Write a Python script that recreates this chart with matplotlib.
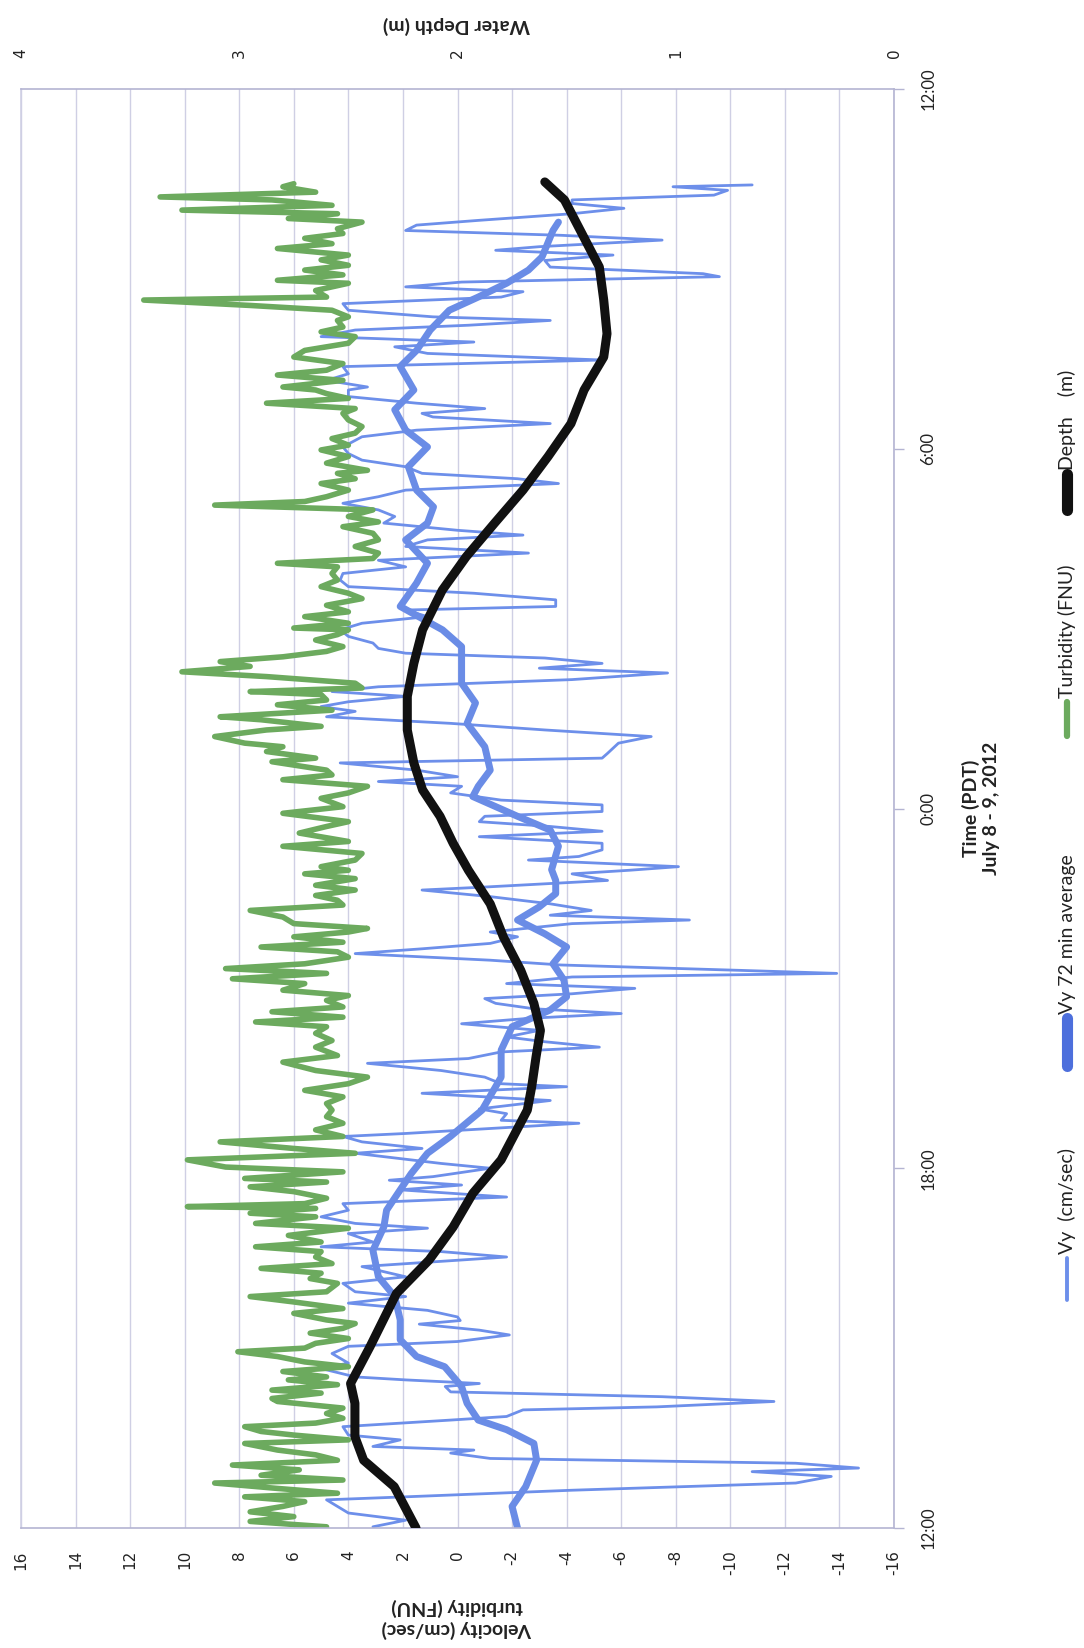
import matplotlib.pyplot as plt
from matplotlib.lines import Line2D

W, H = 1084, 1648

# ---- data: hours after 12:00 PDT, July 8 2012 ----
vy_hours = [0.02, 0.13, 0.25, 0.47, 0.52, 0.63, 0.75, 0.86, 0.94, 1.00, 1.08, 1.16, 1.25, 1.30,
            1.36, 1.47, 1.55, 1.69, 1.80, 1.86, 1.97, 2.02, 2.11, 2.19, 2.27, 2.36, 2.41, 2.47,
            2.52, 2.66, 2.75, 2.91, 3.03, 3.11, 3.22, 3.30, 3.40, 3.46, 3.52, 3.63, 3.75, 3.86,
            3.94, 4.08, 4.19, 4.36, 4.52, 4.61, 4.69, 4.77, 4.91, 5.00, 5.08, 5.19, 5.30, 5.41,
            5.52, 5.64, 5.72, 5.80, 5.86, 6.00, 6.08, 6.25, 6.33, 6.44, 6.53, 6.58, 6.75, 6.80,
            6.91, 6.99, 7.13, 7.25, 7.36, 7.41, 7.52, 7.63, 7.75, 7.83, 7.94, 8.02, 8.11, 8.19,
            8.30, 8.41, 8.50, 8.58, 8.66, 8.75, 8.83, 8.91, 9.00, 9.08, 9.19, 9.25, 9.30, 9.39,
            9.47, 9.58, 9.66, 9.75, 9.86, 9.94, 10.08, 10.14, 10.22, 10.30, 10.41, 10.53, 10.64,
            10.69, 10.80, 10.91, 10.97, 11.03, 11.14, 11.20, 11.31, 11.42, 11.53, 11.62, 11.70,
            11.78, 11.87, 11.95, 12.06, 12.14, 12.26, 12.37, 12.45, 12.53, 12.64, 12.76, 12.84,
            12.92, 13.09, 13.20, 13.31, 13.42, 13.53, 13.62, 13.70, 13.78, 13.87, 13.95, 14.03,
            14.15, 14.26, 14.34, 14.42, 14.51, 14.59, 14.67, 14.76, 14.87, 14.98, 15.09, 15.20,
            15.31, 15.37, 15.48, 15.59, 15.70, 15.81, 15.92, 16.03, 16.14, 16.26, 16.37, 16.48,
            16.56, 16.64, 16.76, 16.87, 16.98, 17.09, 17.20, 17.31, 17.42, 17.50, 17.59, 17.70,
            17.81, 17.92, 18.03, 18.20, 18.31, 18.42, 18.53, 18.59, 18.67, 18.76, 18.87, 18.98,
            19.03, 19.14, 19.25, 19.37, 19.48, 19.59, 19.70, 19.78, 19.87, 19.98, 20.06, 20.14,
            20.20, 20.31, 20.42, 20.53, 20.62, 20.70, 20.78, 20.87, 20.92, 21.03, 21.14, 21.23,
            21.31, 21.37, 21.48, 21.56, 21.64, 21.73, 21.81, 21.92, 22.01, 22.09, 22.15, 22.23,
            22.31, 22.37, 22.40]
vy_vals = [3.1, 1.9, 4.0, 4.8, 1.9, -4.2, -12.4, -13.7, -10.8, -14.7, -12.4, -1.2, 0.25, -0.6,
           3.1, 2.1, 4.0, 4.2, 0.25, -1.8, -2.4, -7.3, -11.6, -7.5, 0.25, 0.45, -0.8, 1.9,
           3.75, 5.0, 4.0, 4.6, 4.0, 0.0, -1.9, -0.8, 1.4, -0.1, 0.0, 1.1, 4.0, 1.9,
           3.75, 4.2, 1.9, 3.5, -1.8, 0.6, 5.0, 3.1, 4.0, 1.1, 3.75, 5.0, 4.0, 4.2,
           -1.8, 2.1, -0.15, 2.5, 0.9, -1.2, 0.6, 3.75, 1.3, 3.5, 4.2, 1.9, -4.45, -1.6,
           -1.8, -0.8, -3.4, 1.3, -4.0, -1.6, -1.0, 0.6, 3.3, -0.4, -1.6, -5.2, -3.2, -1.8,
           -3.0, -0.15, -2.6, -6.0, -2.8, -1.4, -1.0, -4.2, -6.5, -1.8, -4.2, -13.9, -10.4, -3.8,
           -1.2, 3.75, 1.3, -1.2, -2.2, -1.2, -4.2, -8.5, -3.4, -4.9, -3.4, -1.2, 1.3,
           -1.0, -5.5, -4.2, -6.3, -8.1, -2.6, -4.45, -5.3, -5.3, -0.8, -5.3, -3.4,
           -0.8, -1.0, -5.3, -5.3, -1.6, 0.25, -0.15, 2.9, 0.0, 1.5, 4.3, -5.3,
           -5.5, -5.9, -7.1, -3.2, 0.25, 4.8, 3.75, 5.0, 4.0, 1.9, 4.6, 2.9,
           -4.2, -7.7, -3.0, -5.3, -3.2, 1.9, 2.9, 3.1, 4.0, 4.3, 3.5, 1.1,
           1.9, -3.6, -3.6, -0.6, 4.0, 4.3, 4.2, 1.9, 2.9, -2.6, 1.9, 1.1,
           -2.4, 0.0, 2.7, 2.3, 2.9, 4.2, 2.9, 1.9, -3.7, -2.2, 1.3, 1.9,
           3.5, 4.0, 4.2, 3.5, 1.5, -3.4, 0.9, 1.3, -1.0, 1.5, 4.0, 4.0,
           3.3, 4.8, 4.0, 4.2, -5.3, 1.1, 2.3, -0.6, 5.0, 3.75, -0.4, -3.4,
           0.9, 4.0, 4.2, -1.6, -2.4, 1.9, -0.15, -9.6, -9.0, -3.4, -3.2, -5.7,
           -1.4, -3.0, -7.5, -3.8, 1.9, 1.5, -0.8, -4.2, -6.1, -4.2, -4.2, -9.4,
           -9.9, -7.9, -10.8]

avg_hours = [0.00, 0.36, 0.69, 1.13, 1.41, 1.64, 1.80, 2.08, 2.36, 2.69, 2.86, 3.14, 3.47, 3.86,
             4.19, 4.63, 5.02, 5.30, 5.64, 5.91, 6.25, 6.53, 6.80, 6.97, 7.52, 7.97, 8.36, 8.64,
             8.86, 9.14, 9.41, 9.69, 9.91, 10.14, 10.36, 10.58, 10.80, 10.98, 11.37, 11.64,
             11.87, 12.20, 12.37, 12.64, 13.03, 13.42, 13.76, 14.09, 14.42, 14.70, 14.98, 15.37,
             15.76, 16.09, 16.48, 16.76, 17.03, 17.31, 17.70, 18.03, 18.31, 18.65, 18.98, 19.37,
             19.64, 19.98, 20.31, 20.53, 20.76, 20.98, 21.20, 21.42, 21.64, 21.78]
avg_vals = [-2.2, -2.0, -2.5, -2.9, -2.8, -1.8, -0.76, -0.35, -0.15, 0.47, 1.5, 2.1, 2.1, 2.3,
            2.9, 3.1, 2.7, 2.6, 2.1, 1.7, 1.1, 0.26, -0.45, -0.9, -1.6, -1.6, -2.0, -3.4,
            -4.0, -3.9, -3.5, -4.0, -3.2, -2.2, -3.0, -3.6, -3.6, -3.45, -3.7, -3.4,
            -2.2, -0.56, -0.76, -1.2, -1.0, -0.35, -0.66, -0.15, -0.15, -0.15, 0.55, 2.1,
            1.5, 1.1, 1.9, 1.1, 0.88, 1.5, 1.8, 1.1, 1.9, 2.3, 1.6, 2.1,
            1.5, 1.0, 0.3, -0.76, -1.8, -2.6, -3.1, -3.3, -3.5, -3.7]

turb_hours = [0.02, 0.11, 0.19, 0.27, 0.36, 0.44, 0.52, 0.58, 0.66, 0.75, 0.80, 0.88, 0.97, 1.05,
              1.13, 1.22, 1.30, 1.41, 1.47, 1.55, 1.61, 1.69, 1.75, 1.83, 1.91, 2.00, 2.11, 2.16,
              2.25, 2.30, 2.39, 2.47, 2.52, 2.61, 2.69, 2.77, 2.86, 2.94, 3.00, 3.08, 3.16, 3.25,
              3.33, 3.41, 3.47, 3.58, 3.66, 3.77, 3.86, 3.94, 4.08, 4.16, 4.25, 4.33, 4.41, 4.52,
              4.61, 4.69, 4.77, 4.88, 5.00, 5.08, 5.19, 5.25, 5.33, 5.36, 5.41, 5.50, 5.61, 5.69,
              5.77, 5.83, 5.94, 6.02, 6.14, 6.25, 6.33, 6.44, 6.53, 6.64, 6.75, 6.86, 6.97, 7.08,
              7.19, 7.30, 7.41, 7.52, 7.63, 7.77, 7.88, 8.02, 8.13, 8.25, 8.36, 8.44, 8.52, 8.61,
              8.69, 8.80, 8.88, 8.97, 9.08, 9.16, 9.25, 9.33, 9.41, 9.52, 9.61, 9.69, 9.77, 9.86,
              9.94, 10.00, 10.08, 10.19, 10.30, 10.39, 10.47, 10.55, 10.64, 10.72, 10.83, 10.91,
              10.97, 11.03, 11.14, 11.25, 11.37, 11.45, 11.59, 11.70, 11.78, 11.92, 12.03, 12.17,
              12.26, 12.37, 12.48, 12.56, 12.64, 12.78, 12.84, 12.95, 13.03, 13.09, 13.20, 13.31,
              13.37, 13.48, 13.53, 13.64, 13.73, 13.81, 13.90, 13.95, 14.01, 14.09, 14.20, 14.28,
              14.37, 14.45, 14.53, 14.62, 14.70, 14.81, 14.90, 14.98, 15.01, 15.09, 15.20, 15.28,
              15.39, 15.50, 15.59, 15.70, 15.81, 15.92, 16.03, 16.09, 16.17, 16.26, 16.37, 16.48,
              16.59, 16.70, 16.78, 16.87, 16.98, 17.06, 17.12, 17.20, 17.31, 17.42, 17.50, 17.59,
              17.64, 17.76, 17.87, 17.98, 18.06, 18.17, 18.26, 18.37, 18.48, 18.59, 18.67, 18.76,
              18.84, 18.92, 18.98, 19.03, 19.14, 19.23, 19.31, 19.42, 19.53, 19.64, 19.76, 19.87,
              19.95, 20.03, 20.14, 20.20, 20.31, 20.39, 20.48, 20.53, 20.64, 20.76, 20.81, 20.90,
              20.98, 21.06, 21.15, 21.23, 21.34, 21.42, 21.51, 21.59, 21.67, 21.78, 21.84, 21.92,
              21.98, 22.06, 22.15, 22.20, 22.28, 22.37, 22.42]
turb_vals = [4.8, 7.6, 6.0, 7.6, 6.4, 5.6, 7.8, 4.4, 6.6, 8.9, 4.2, 7.2, 5.8, 8.25,
             4.4, 5.2, 6.6, 7.8, 4.0, 6.0, 7.2, 7.8, 5.2, 4.2, 4.8, 4.2, 6.6, 6.8,
             5.0, 6.8, 4.4, 6.2, 4.8, 6.4, 4.0, 5.6, 6.6, 8.05, 5.6, 5.2, 4.0, 5.4,
             4.2, 3.75, 4.8, 6.0, 4.2, 6.0, 7.6, 4.8, 4.4, 5.4, 5.0, 7.2, 4.6, 5.2,
             5.0, 7.4, 5.0, 6.2, 4.0, 7.4, 5.2, 7.6, 5.2, 9.9, 5.6, 4.8, 6.0, 7.6,
             4.8, 7.8, 4.2, 8.5, 9.9, 3.75, 6.0, 8.7, 4.2, 5.2, 4.2, 4.8, 4.6, 4.8,
             4.2, 5.6, 4.0, 3.3, 5.2, 6.4, 4.4, 5.2, 4.6, 5.2, 4.8, 7.4, 4.2, 6.8,
             4.2, 4.8, 4.0, 6.4, 5.6, 8.25, 4.8, 8.5, 5.6, 4.0, 4.4, 7.2, 4.2, 6.0,
             4.0, 3.3, 6.0, 6.4, 7.6, 4.2, 4.4, 5.2, 3.75, 5.2, 3.75, 5.6,
             4.0, 5.0, 3.75, 3.5, 6.4, 4.0, 5.8, 4.8, 4.0, 6.4, 4.2, 5.0,
             4.0, 3.3, 6.4, 4.6, 4.8, 6.8, 5.2, 7.0, 6.4, 7.8, 8.9, 7.0,
             5.0, 7.2, 8.7, 4.6, 6.6, 4.8, 5.0, 7.6, 3.5, 3.75, 7.0, 10.1,
             7.6, 8.7, 6.4, 4.8, 4.2, 5.2, 4.4, 4.0, 6.0, 4.0, 5.6, 4.0,
             4.8, 3.5, 4.0, 5.0, 4.4, 4.6, 4.4, 6.6, 3.1, 2.9, 3.75, 2.9,
             3.1, 4.2, 2.9, 4.0, 3.1, 8.9, 5.6, 4.8, 4.0, 5.0, 3.75, 4.4,
             3.3, 4.8, 4.0, 5.0, 4.0, 4.6, 3.75, 3.5, 4.0, 4.2, 3.75, 7.0,
             4.0, 4.8, 5.2, 6.4, 4.2, 6.6, 4.8, 4.2, 6.0, 5.6, 4.0, 3.75,
             5.0, 4.2, 4.4, 4.0, 4.6, 7.6, 11.5, 4.8, 5.2, 4.0, 6.6, 4.2,
             5.6, 4.0, 5.0, 4.0, 6.6, 4.6, 5.6, 4.2, 4.4, 3.5, 6.2, 4.4,
             10.1, 4.6, 6.8, 10.9, 5.2, 6.4, 6.0]

depth_hours = [0.00, 0.69, 1.13, 1.52, 2.08, 2.41, 3.03, 3.47, 3.91, 4.47, 5.02, 5.58, 6.14, 6.97,
               7.36, 7.86, 8.30, 8.75, 9.30, 9.86, 10.41, 10.97, 11.42, 11.87, 12.31, 12.76, 13.31,
               13.87, 14.42, 14.98, 15.64, 16.20, 16.76, 17.31, 17.87, 18.42, 18.98, 19.53, 19.92,
               20.48, 21.03, 21.59, 22.15, 22.45]
depth_vals = [2.19, 2.29, 2.43, 2.47, 2.47, 2.49, 2.40, 2.34, 2.28, 2.13, 2.02, 1.93, 1.80, 1.68,
              1.66, 1.64, 1.62, 1.65, 1.71, 1.79, 1.85, 1.95, 2.02, 2.08, 2.16, 2.20, 2.23,
              2.23, 2.20, 2.16, 2.07, 1.96, 1.83, 1.70, 1.585, 1.48, 1.42, 1.33, 1.315,
              1.33, 1.35, 1.43, 1.51, 1.60]

vel_ticks = list(range(-16, 17, 2))
depth_ticks = [0, 1, 2, 3, 4]
time_ticks = [0, 6, 12, 18, 24]
time_labels = ['12:00', '18:00', '0:00', '6:00', '12:00']

c_vy = '#6d8fea'
c_avg = '#6a8ce6'
c_turb = '#6caa5e'
c_depth = '#111111'
c_grid = '#cfcfe4'
c_axis = '#b4b4d2'
txt_font = 'Lato'

# page is laid out sideways: time runs up the page, velocity right-to-left
fig = plt.figure(figsize=(W / 100, H / 100), dpi=100)
ax = fig.add_axes([21 / W, 1 - 1528 / H, 873 / W, 1439 / H])
ax.set_xlim(16, -16)
ax.set_ylim(0, 24)

kw = dict(solid_joinstyle='round', solid_capstyle='round')
ax.plot(vy_vals, vy_hours, color=c_vy, lw=2.0, **kw)
ax.plot(avg_vals, avg_hours, color=c_avg, lw=5.0, **kw)
ax.plot(turb_vals, turb_hours, color=c_turb, lw=4.0, **kw)

ax.set_xticks(vel_ticks)
ax.set_xticklabels([str(v) for v in vel_ticks], rotation=90, fontsize=11,
                   family='DejaVu Sans', color='#222222')
ax.tick_params(axis='x', length=0, pad=16)
ax.grid(axis='x', color=c_grid, lw=1.0)
ax.set_axisbelow(True)

ax.yaxis.tick_right()
ax.set_yticks(time_ticks)
ax.set_yticklabels(time_labels, rotation=90, va='center', fontsize=12,
                   family=txt_font, color='#222222')
ax.tick_params(axis='y', direction='out', length=7, width=1, color=c_axis, pad=12)

for side in ['top', 'bottom', 'left', 'right']:
    ax.spines[side].set_color(c_axis)
    ax.spines[side].set_linewidth(1.2)
ax.spines['left'].set_color(c_grid)

# water depth on its own scale along the top
ax2 = ax.twiny()
ax2.set_xlim(4, 0)
ax2.plot(depth_vals, depth_hours, color=c_depth, lw=6.5, **kw)
ax2.set_xticks(depth_ticks)
ax2.set_xticklabels([str(v) for v in depth_ticks], rotation=90, fontsize=11,
                    family='DejaVu Sans', color='#222222')
ax2.tick_params(axis='x', length=0, pad=22)
for side in ax2.spines:
    ax2.spines[side].set_visible(False)

# axis titles
fig.text(457 / W, 1 - 1618 / H, 'Velocity (cm/sec)\nturbidity (FNU)', rotation=180,
         ha='center', va='center', multialignment='center', fontsize=14,
         fontweight='bold', family=txt_font, color='#222222', linespacing=1.25)
fig.text(456 / W, 1 - 25 / H, 'Water Depth (m)', rotation=180, ha='center', va='center',
         fontsize=14, fontweight='bold', family=txt_font, color='#222222')
fig.text(981 / W, 1 - 808 / H, 'Time (PDT)\nJuly 8 - 9, 2012', rotation=90,
         ha='center', va='center', multialignment='center', fontsize=14,
         fontweight='bold', family=txt_font, color='#222222', linespacing=1.25)

# legend, drawn sideways
leg_x = 1067 / W
entries = [
    ('Vy  (cm/sec)', c_vy, 2.8, 1300, 1258),
    ('Vy 72 min average', '#4d6fdc', 8.0, 1066, 1018),
    ('Turbidity (FNU)', c_turb, 4.5, 736, 702),
    ('Depth    (m)', c_depth, 8.0, 510, 474),
]
for label, col, lw, y_lo, y_hi in entries:
    fig.add_artist(Line2D([leg_x, leg_x], [1 - y_lo / H, 1 - y_hi / H],
                          transform=fig.transFigure, color=col, lw=lw,
                          solid_capstyle='round'))
    fig.text(leg_x, 1 - (y_hi - 4) / H, label, rotation=90, rotation_mode='anchor',
             ha='left', va='center', fontsize=14, family=txt_font, color='#222222')

fig.savefig('out.png', dpi=100, facecolor='white')
